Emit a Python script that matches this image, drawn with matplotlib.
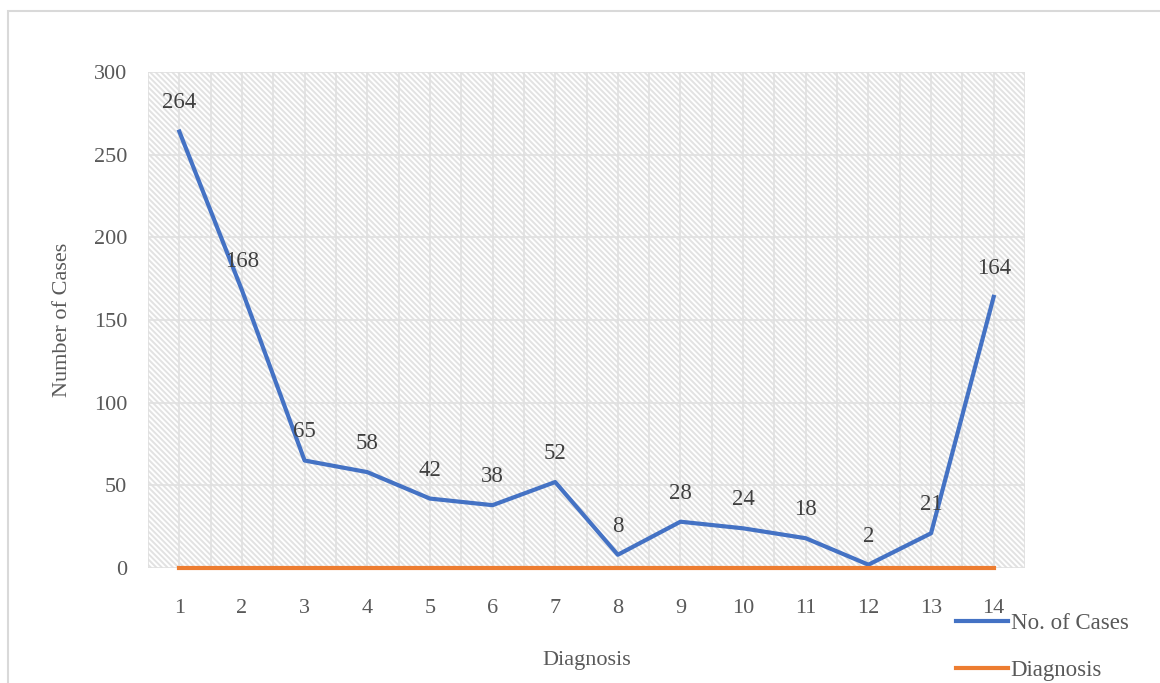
import numpy as np
import matplotlib.pyplot as plt
from matplotlib.patches import Rectangle

# datos
diagnosis = list(range(1, 15))
no_of_cases = [264, 168, 65, 58, 42, 38, 52, 8, 28, 24, 18, 2, 21, 164]
diagnosis_series = [0] * 14
y_ticks = [0, 50, 100, 150, 200, 250, 300]

plt.rcParams['font.family'] = ['Liberation Serif', 'DejaVu Serif']
gris = '#595959'

fig = plt.figure(figsize=(11.6, 6.83), dpi=100)
fig.patches.append(Rectangle((8 / 1160, -0.1), 1.2, 1 - 11 / 683 + 0.1, transform=fig.transFigure,
                             fill=False, edgecolor='#d9d9d9', linewidth=1.5))
ax = fig.add_axes([148 / 1160, 115 / 683, 877 / 1160, 496 / 683])

# fondo rayado
plt.rcParams['hatch.linewidth'] = 1.4
ax.add_patch(Rectangle((0, 0), 1, 1, transform=ax.transAxes, facecolor='white',
                       edgecolor='#e2e2e2', hatch='\\' * 6, linewidth=0, zorder=0))

ax.set_xlim(0.5, 14.5)
ax.set_ylim(0, 300)
for xv in np.arange(0.5, 14.51, 0.5):
    ax.axvline(xv, color='#e0e0e0', linewidth=1.2, zorder=1)
for yv in y_ticks:
    ax.axhline(yv, color='#e0e0e0', linewidth=1.2, zorder=1)

ax.plot(diagnosis, no_of_cases, color='#4472C4', linewidth=3, label='No. of Cases', zorder=3)
ax.plot(diagnosis, diagnosis_series, color='#ED7D31', linewidth=3, label='Diagnosis',
        zorder=3, clip_on=False)

for x, v in zip(diagnosis, no_of_cases):
    ax.annotate(str(v), (x, v), xytext=(0, 13), textcoords='offset points',
                ha='center', va='bottom', fontsize=16.5, color='#404040', zorder=4)

for s in ax.spines.values():
    s.set_visible(False)
ax.set_xticks(diagnosis)
ax.set_yticks(y_ticks)
ax.tick_params(length=0, labelsize=16, labelcolor=gris)
ax.tick_params(axis='x', pad=22)
ax.tick_params(axis='y', pad=15)
ax.set_xlabel('Diagnosis', fontsize=16, color=gris, labelpad=24)
ax.set_ylabel('Number of Cases', fontsize=16, color=gris, labelpad=16)

fig.legend(loc='upper left', bbox_to_anchor=(935 / 1160, 1 - 592 / 683), frameon=False,
           fontsize=16.5, labelcolor=gris, handlelength=2.3, handletextpad=0.1,
           labelspacing=1.15)

plt.savefig('out.png', dpi=100)
